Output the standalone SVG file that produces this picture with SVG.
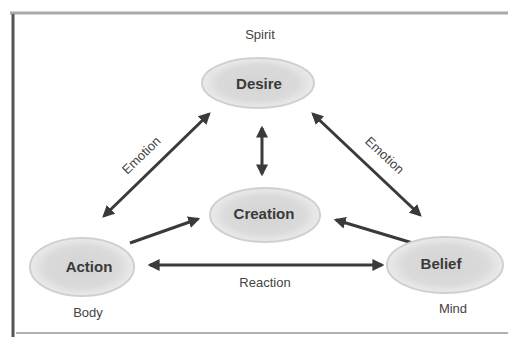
<svg xmlns="http://www.w3.org/2000/svg" width="508" height="337" viewBox="0 0 508 337">
<defs>
<radialGradient id="g" cx="50%" cy="50%" r="50%">
<stop offset="0%" stop-color="#d4d4d4"/>
<stop offset="70%" stop-color="#dadada"/>
<stop offset="100%" stop-color="#ebebeb"/>
</radialGradient>
<marker id="ah" viewBox="0 0 10 10" refX="8" refY="5" markerWidth="4" markerHeight="4" orient="auto-start-reverse">
<path d="M0,0 L10,5 L0,10 z" fill="#3a3a3a"/>
</marker>
</defs>
<style>
.node ellipse{fill:url(#g);stroke:#d0d0d0;stroke-width:2}
.lbl{font-family:"Liberation Sans",Arial,sans-serif;font-size:15px;font-weight:bold;fill:#3a3a3a;text-anchor:middle;dominant-baseline:middle}
.sub{font-family:"Liberation Sans",Arial,sans-serif;font-size:13px;fill:#444;text-anchor:middle;dominant-baseline:middle}
.edge{stroke:#3a3a3a;stroke-width:3;fill:none}
</style>
<rect width="508" height="337" fill="#ffffff"/>
<g id="frame">
<line x1="10" y1="13" x2="508" y2="13" stroke="#aaaaaa" stroke-width="3"/>
<line x1="13" y1="14" x2="13" y2="337" stroke="#555555" stroke-width="3"/>
<line x1="16" y1="333" x2="508" y2="333" stroke="#b0b0b0" stroke-width="2"/>
</g>
<g id="connectors">
<line class="edge" x1="104" y1="216" x2="209" y2="114" marker-start="url(#ah)" marker-end="url(#ah)"/>
<line class="edge" x1="313" y1="114" x2="420" y2="215" marker-start="url(#ah)" marker-end="url(#ah)"/>
<line class="edge" x1="262" y1="128" x2="262" y2="174" marker-start="url(#ah)" marker-end="url(#ah)"/>
<line class="edge" x1="130" y1="243" x2="198" y2="219" marker-end="url(#ah)"/>
<line class="edge" x1="416" y1="244" x2="336" y2="220" marker-end="url(#ah)"/>
<line class="edge" x1="150" y1="265" x2="382" y2="265" marker-start="url(#ah)" marker-end="url(#ah)"/>
<text class="sub" x="142" y="156" transform="rotate(-44 142 156)">Emotion</text>
<text class="sub" x="384" y="156" transform="rotate(43 384 156)">Emotion</text>
<text class="sub" x="265" y="284">Reaction</text>
</g>
<g id="desire" class="node">
<ellipse cx="258" cy="83" rx="56" ry="25"/>
<text class="lbl" x="259" y="85">Desire</text>
<text class="sub" x="260" y="36">Spirit</text>
</g>
<g id="creation" class="node">
<ellipse cx="265" cy="215" rx="55" ry="27"/>
<text class="lbl" x="264" y="215">Creation</text>
</g>
<g id="action" class="node">
<ellipse cx="82" cy="267" rx="52" ry="29"/>
<text class="lbl" x="89" y="268">Action</text>
<text class="sub" x="88" y="314">Body</text>
</g>
<g id="belief" class="node">
<ellipse cx="445" cy="265" rx="58" ry="28"/>
<text class="lbl" x="441" y="265">Belief</text>
<text class="sub" x="453" y="310">Mind</text>
</g>
</svg>
